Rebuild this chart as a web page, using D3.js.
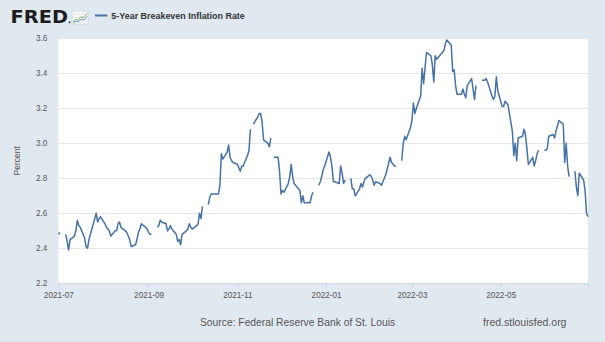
<!DOCTYPE html>
<html>
<head>
<meta charset="utf-8">
<script src="https://cdn.jsdelivr.net/npm/d3@7"></script>
<style>
  html, body { margin: 0; padding: 0; background: #e1e9f0; }
  svg { display: block; font-family: "Liberation Sans", Arial, sans-serif; }
</style>
</head>
<body>
<svg id="chart" width="605" height="342"></svg>
<script>
// 5-Year Breakeven Inflation Rate (T5YIE), daily, percent. null = market holiday.
const dates = [
  "2021-07-01","2021-07-02","2021-07-05","2021-07-06","2021-07-07","2021-07-08","2021-07-09","2021-07-12","2021-07-13","2021-07-14","2021-07-15","2021-07-16","2021-07-19","2021-07-20","2021-07-21","2021-07-22","2021-07-23","2021-07-26","2021-07-27","2021-07-28","2021-07-29","2021-07-30",
  "2021-08-02","2021-08-03","2021-08-04","2021-08-05","2021-08-06","2021-08-09","2021-08-10","2021-08-11","2021-08-12","2021-08-13","2021-08-16","2021-08-17","2021-08-18","2021-08-19","2021-08-20","2021-08-23","2021-08-24","2021-08-25","2021-08-26","2021-08-27","2021-08-30","2021-08-31",
  "2021-09-01","2021-09-02","2021-09-03","2021-09-06","2021-09-07","2021-09-08","2021-09-09","2021-09-10","2021-09-13","2021-09-14","2021-09-15","2021-09-16","2021-09-17","2021-09-20","2021-09-21","2021-09-22","2021-09-23","2021-09-24","2021-09-27","2021-09-28","2021-09-29","2021-09-30",
  "2021-10-01","2021-10-04","2021-10-05","2021-10-06","2021-10-07","2021-10-08","2021-10-11","2021-10-12","2021-10-13","2021-10-14","2021-10-15","2021-10-18","2021-10-19","2021-10-20","2021-10-21","2021-10-22","2021-10-25","2021-10-26","2021-10-27","2021-10-28","2021-10-29",
  "2021-11-01","2021-11-02","2021-11-03","2021-11-04","2021-11-05","2021-11-08","2021-11-09","2021-11-10","2021-11-11","2021-11-12","2021-11-15","2021-11-16","2021-11-17","2021-11-18","2021-11-19","2021-11-22","2021-11-23","2021-11-24","2021-11-25","2021-11-26","2021-11-29","2021-11-30",
  "2021-12-01","2021-12-02","2021-12-03","2021-12-06","2021-12-07","2021-12-08","2021-12-09","2021-12-10","2021-12-13","2021-12-14","2021-12-15","2021-12-16","2021-12-17","2021-12-20","2021-12-21","2021-12-22","2021-12-23","2021-12-24","2021-12-27","2021-12-28","2021-12-29","2021-12-30","2021-12-31",
  "2022-01-03","2022-01-04","2022-01-05","2022-01-06","2022-01-07","2022-01-10","2022-01-11","2022-01-12","2022-01-13","2022-01-14","2022-01-17","2022-01-18","2022-01-19","2022-01-20","2022-01-21","2022-01-24","2022-01-25","2022-01-26","2022-01-27","2022-01-28","2022-01-31",
  "2022-02-01","2022-02-02","2022-02-03","2022-02-04","2022-02-07","2022-02-08","2022-02-09","2022-02-10","2022-02-11","2022-02-14","2022-02-15","2022-02-16","2022-02-17","2022-02-18","2022-02-21","2022-02-22","2022-02-23","2022-02-24","2022-02-25","2022-02-28",
  "2022-03-01","2022-03-02","2022-03-03","2022-03-04","2022-03-07","2022-03-08","2022-03-09","2022-03-10","2022-03-11","2022-03-14","2022-03-15","2022-03-16","2022-03-17","2022-03-18","2022-03-21","2022-03-22","2022-03-23","2022-03-24","2022-03-25","2022-03-28","2022-03-29","2022-03-30","2022-03-31",
  "2022-04-01","2022-04-04","2022-04-05","2022-04-06","2022-04-07","2022-04-08","2022-04-11","2022-04-12","2022-04-13","2022-04-14","2022-04-15","2022-04-18","2022-04-19","2022-04-20","2022-04-21","2022-04-22","2022-04-25","2022-04-26","2022-04-27","2022-04-28","2022-04-29",
  "2022-05-02","2022-05-03","2022-05-04","2022-05-05","2022-05-06","2022-05-09","2022-05-10","2022-05-11","2022-05-12","2022-05-13","2022-05-16","2022-05-17","2022-05-18","2022-05-19","2022-05-20","2022-05-23","2022-05-24","2022-05-25","2022-05-26","2022-05-27","2022-05-30","2022-05-31",
  "2022-06-01","2022-06-02","2022-06-03","2022-06-06","2022-06-07","2022-06-08","2022-06-09","2022-06-10","2022-06-13","2022-06-14","2022-06-15","2022-06-16","2022-06-17","2022-06-20","2022-06-21","2022-06-22","2022-06-23","2022-06-24","2022-06-27","2022-06-28","2022-06-29","2022-06-30"
];

const rates = [
  2.48,2.49,null,2.48,2.44,2.39,2.45,2.47,2.50,2.56,2.53,2.52,2.46,2.41,2.40,2.45,2.48,2.57,2.60,2.55,2.57,2.58,
  2.54,2.52,2.51,2.50,2.47,2.50,2.50,2.54,2.55,2.52,2.50,2.49,2.47,2.45,2.41,2.42,2.45,2.49,2.51,2.54,2.52,2.51,
  2.49,2.48,2.48,null,2.52,2.53,2.56,2.55,2.54,2.50,2.51,2.53,2.51,2.48,2.44,2.45,2.42,2.48,2.50,2.51,2.54,2.52,
  2.51,2.53,2.54,2.60,2.57,2.64,null,2.65,2.69,2.71,2.71,2.71,2.71,2.76,2.94,2.91,2.95,2.99,2.92,2.90,2.89,
  2.88,2.86,2.84,2.87,2.87,2.93,2.96,3.08,null,3.11,3.15,3.17,3.17,3.12,3.02,3.00,2.98,3.03,null,2.92,2.92,2.84,
  2.71,2.73,2.72,2.77,2.81,2.88,2.81,2.77,2.74,2.73,2.66,2.70,2.66,2.66,2.66,2.70,2.72,null,2.76,2.78,2.81,2.85,2.87,
  2.95,2.92,2.87,2.78,2.78,2.77,2.87,2.83,2.77,2.79,null,2.80,2.74,2.74,2.70,2.74,2.77,2.75,2.78,2.80,2.82,
  2.81,2.79,2.76,2.78,2.77,2.76,2.78,2.80,2.82,2.92,2.89,2.88,2.87,2.87,null,2.90,3.00,3.04,3.02,3.09,
  3.13,3.23,3.17,3.20,3.27,3.43,3.34,3.43,3.52,3.50,3.45,3.35,3.50,3.48,3.51,3.52,3.53,3.57,3.59,3.56,3.41,3.42,3.33,
  3.28,3.28,3.31,3.28,3.26,3.33,3.37,3.31,3.25,3.33,null,3.36,3.36,3.36,3.37,3.35,3.27,3.25,3.27,3.38,3.30,
  3.21,3.21,3.24,3.23,3.22,3.07,2.93,3.00,2.90,3.03,3.04,3.08,3.05,2.97,2.88,2.92,2.87,2.90,2.94,2.96,null,2.96,
  2.96,2.97,3.04,3.05,3.03,3.07,3.10,3.13,3.11,2.89,3.00,2.87,2.81,null,2.84,2.75,2.70,2.83,2.79,2.73,2.60,2.58
];

const yTicks = [2.2, 2.4, 2.6, 2.8, 3.0, 3.2, 3.4, 3.6];
const xTicks = ["2021-07-01", "2021-09-01", "2021-11-01", "2022-01-01", "2022-03-01", "2022-05-01"];

const seriesName = "5-Year Breakeven Inflation Rate";
const yTitle = "Percent";
const sourceText = "Source: Federal Reserve Bank of St. Louis";
const siteText = "fred.stlouisfed.org";

const parse = d3.timeParse("%Y-%m-%d");
const points = dates.map((d, i) => ({ date: parse(d), value: rates[i] }));

const svg = d3.select("#chart");
const W = 605, H = 342;
const plot = { left: 58.4, right: 588, top: 38.3, bottom: 283.3 };

svg.append("rect").attr("width", W).attr("height", H).attr("fill", "#e1e9f0");

const x = d3.scaleTime()
  .domain([points[0].date, points[points.length - 1].date])
  .range([plot.left, plot.right]);
const y = d3.scaleLinear().domain([2.2, 3.6]).range([plot.bottom, plot.top]);

// plot background
svg.append("rect")
  .attr("x", plot.left).attr("y", plot.top)
  .attr("width", plot.right - plot.left).attr("height", plot.bottom - plot.top)
  .attr("fill", "#ffffff");

// horizontal gridlines
svg.append("g")
  .selectAll("line")
  .data(yTicks)
  .join("line")
  .attr("x1", plot.left).attr("x2", plot.right)
  .attr("y1", d => Math.round(y(d)) + 0.5).attr("y2", d => Math.round(y(d)) + 0.5)
  .attr("stroke", "#e6e6e6").attr("stroke-width", 1);

// y axis labels
const yAxis = svg.append("g")
  .attr("transform", `translate(${plot.left},0)`)
  .call(d3.axisLeft(y).tickValues(yTicks).tickFormat(d3.format(".1f")).tickSize(0).tickPadding(11));
yAxis.select(".domain").remove();
yAxis.selectAll("text")
  .attr("font-family", "Liberation Sans, Arial, sans-serif")
  .attr("font-size", 8.2).attr("fill", "#555");

// x axis
const xAxis = svg.append("g")
  .attr("transform", `translate(0,${plot.bottom})`)
  .call(d3.axisBottom(x).tickValues(xTicks.map(parse)).tickFormat(d3.timeFormat("%Y-%m")).tickSize(5).tickPadding(4));
xAxis.select(".domain").attr("stroke", "#ccd6eb");
xAxis.selectAll(".tick line").attr("stroke", "#ccd6eb");
xAxis.selectAll("text")
  .attr("font-family", "Liberation Sans, Arial, sans-serif")
  .attr("font-size", 8.2).attr("fill", "#555");

// data line
const line = d3.line()
  .defined(d => d.value !== null)
  .x(d => x(d.date))
  .y(d => y(d.value));
svg.append("path")
  .datum(points)
  .attr("d", line)
  .attr("fill", "none")
  .attr("stroke", "#4572a7")
  .attr("stroke-width", 1.5)
  .attr("stroke-linejoin", "round");

// y title
svg.append("text")
  .attr("transform", `translate(20,${(plot.top + plot.bottom) / 2}) rotate(-90)`)
  .attr("text-anchor", "middle")
  .attr("font-size", 8.5).attr("fill", "#555")
  .text(yTitle);

// header: FRED wordmark
svg.append("text")
  .attr("x", 10.5).attr("y", 23.3)
  .attr("font-family", "DejaVu Sans, Liberation Sans, Arial, sans-serif")
  .attr("font-size", 17.5).attr("font-weight", 900)
  .attr("textLength", 57.5).attr("lengthAdjust", "spacingAndGlyphs")
  .attr("fill", "#1c1c1c")
  .text("FRED");
svg.append("circle").attr("cx", 69.6).attr("cy", 22.3).attr("r", 0.9).attr("fill", "#1c1c1c");

// small graph icon
const icon = svg.append("g").attr("transform", "translate(72,11)");
icon.append("rect").attr("width", 16.5).attr("height", 13).attr("fill", "#f4f6f8").attr("stroke", "#c9d3dc").attr("stroke-width", 0.6);
[3.5, 6.5, 9.5].forEach(v => icon.append("line").attr("x1", 0.5).attr("x2", 16).attr("y1", v).attr("y2", v).attr("stroke", "#d8dee4").attr("stroke-width", 0.5));
icon.append("polyline").attr("points", "1,11 4,8 6,9.5 9,5.5 11,7 15.5,2")
  .attr("fill", "none").attr("stroke", "#8cbf6a").attr("stroke-width", 1);
icon.append("polyline").attr("points", "1,12 4,10 6.5,11 9,8 12,9 15.5,5")
  .attr("fill", "none").attr("stroke", "#7fa0c8").attr("stroke-width", 1);

// legend entry
svg.append("line")
  .attr("x1", 95).attr("x2", 107.3).attr("y1", 15.5).attr("y2", 15.5)
  .attr("stroke", "#4572a7").attr("stroke-width", 2);
svg.append("text")
  .attr("x", 111.3).attr("y", 18.8)
  .attr("font-size", 9).attr("font-weight", "bold").attr("fill", "#333")
  .attr("textLength", 133.5).attr("lengthAdjust", "spacingAndGlyphs")
  .text(seriesName);

// footer
svg.append("text")
  .attr("x", 200).attr("y", 325.5)
  .attr("font-size", 10.3).attr("fill", "#555")
  .text(sourceText);
svg.append("text")
  .attr("x", 483).attr("y", 325.5)
  .attr("font-size", 10.5).attr("fill", "#555")
  .text(siteText);
</script>
</body>
</html>
